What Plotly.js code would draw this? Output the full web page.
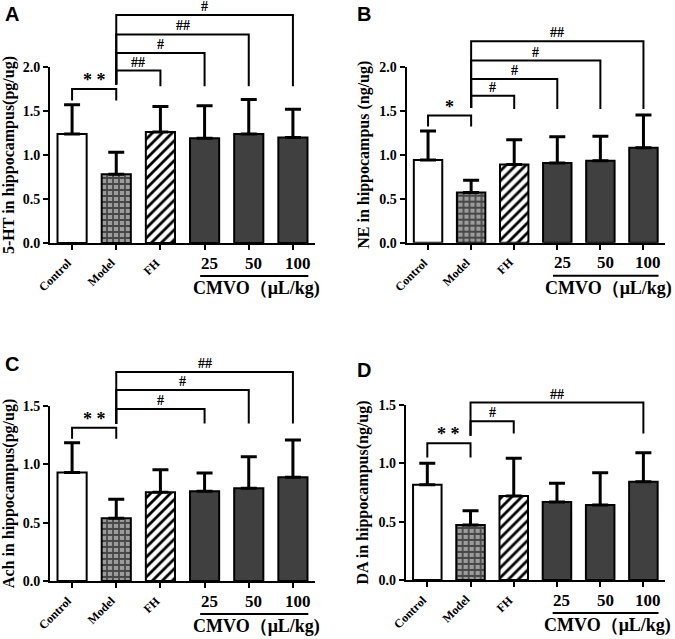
<!DOCTYPE html>
<html><head><meta charset="utf-8">
<script src="https://cdn.plot.ly/plotly-3.0.1.min.js"></script>
<style>html,body{margin:0;padding:0;background:#fff}</style>
</head><body><div id="chart" style="width:675px;height:639px"></div>
<script>
// ---------- data ----------
const groups = ['Control', 'Model', 'FH', '25', '50', '100'];
const rotatedLabels = ['Control', 'Model', 'FH'];
const doseLabels = ['25', '50', '100'];
const doseTitle = 'CMVO（μL/kg)';

const meanA = [1.24, 0.78, 1.26, 1.19, 1.24, 1.20];
const sdA   = [0.33, 0.25, 0.29, 0.37, 0.39, 0.32];
const meanB = [0.94, 0.57, 0.89, 0.905, 0.93, 1.08];
const sdB   = [0.33, 0.14, 0.28, 0.30, 0.28, 0.37];
const meanC = [0.93, 0.537, 0.76, 0.77, 0.794, 0.889];
const sdC   = [0.255, 0.163, 0.194, 0.155, 0.271, 0.319];
const meanD = [0.817, 0.471, 0.72, 0.668, 0.643, 0.842];
const sdD   = [0.183, 0.123, 0.323, 0.16, 0.277, 0.248];

const titleA = '5-HT in hippocampus(pg/ug)';
const titleB = 'NE in hippocampus (ng/ug)';
const titleC = 'Ach in hippocampus(pg/ug)';
const titleD = 'DA in hippocampus(ng/ug)';

const ticksAB = [0, 0.5, 1.0, 1.5, 2.0];
const ticksCD = [0, 0.5, 1.0, 1.5];

// significance vs Control (*) and vs Model (#)
const ctrlSigA = {level: 1.75, leg: 1.62, label: '* *'};
const ctrlSigB = {level: 1.445, leg: 1.32, label: '*'};
const ctrlSigC = {level: 1.314, leg: 1.22, label: '* *'};
const ctrlSigD = {level: 1.171, leg: 1.05, label: '* *'};

const modelTargetsA = ['FH', '25', '50', '100'];
const modelLevelsA  = [1.96, 2.16, 2.37, 2.59];
const modelLabelsA  = ['##', '#', '##', '#'];
const modelTargetsB = ['FH', '25', '50', '100'];
const modelLevelsB  = [1.67, 1.86, 2.07, 2.29];
const modelLabelsB  = ['#', '#', '#', '##'];
const modelTargetsC = ['25', '50', '100'];
const modelLevelsC  = [1.474, 1.637, 1.79];
const modelLabelsC  = ['#', '#', '##'];
const modelTargetsD = ['FH', '100'];
const modelLevelsD  = [1.36, 1.52];
const modelLabelsD  = ['#', '##'];
const modelLegs = {A: [1.80, 1.78], B: [1.53, 1.52], C: [1.345, 1.35], D: [1.237, 1.255]};

// ---------- layout geometry ----------
const W = 675, H = 639;
const panels = [
  {letter: 'A', mean: meanA, sd: sdA, title: titleA, ticks: ticksAB, ctrl: ctrlSigA,
   targets: modelTargetsA, levels: modelLevelsA, labels: modelLabelsA,
   xl: 50, xr: 315, y0: 243, ppu: 88, ymax: 2.0, yext: 2.76, lx: 3, ly: 1},
  {letter: 'B', mean: meanB, sd: sdB, title: titleB, ticks: ticksAB, ctrl: ctrlSigB,
   targets: modelTargetsB, levels: modelLevelsB, labels: modelLabelsB,
   xl: 406.5, xr: 665, y0: 242.7, ppu: 88, ymax: 2.0, yext: 2.74, lx: 355, ly: 1},
  {letter: 'C', mean: meanC, sd: sdC, title: titleC, ticks: ticksCD, ctrl: ctrlSigC,
   targets: modelTargetsC, levels: modelLevelsC, labels: modelLabelsC,
   xl: 50, xr: 315, y0: 581, ppu: 116.7, ymax: 1.5, yext: 2.0, lx: 3, ly: 351},
  {letter: 'D', mean: meanD, sd: sdD, title: titleD, ticks: ticksCD, ctrl: ctrlSigD,
   targets: modelTargetsD, levels: modelLevelsD, labels: modelLabelsD,
   xl: 405.7, xr: 665, y0: 580, ppu: 116.7, ymax: 1.5, yext: 1.9, lx: 355, ly: 357}
];

const serif = 'Liberation Serif';
const sans = 'Liberation Sans';
const barStyles = [
  {color: '#ffffff'},
  {color: '#9c9c9c', pattern: {shape: '+', fgcolor: '#474747', bgcolor: '#9c9c9c', size: 6, solidity: 0.5, fillmode: 'replace'}},
  {color: '#ffffff', pattern: {shape: '/', fgcolor: '#000000', bgcolor: '#ffffff', size: 7, solidity: 0.4, fillmode: 'replace'}},
  {color: '#404040'}, {color: '#404040'}, {color: '#404040'}
];

const data = [];
const layout = {
  width: W, height: H, margin: {l: 0, r: 0, t: 0, b: 0},
  paper_bgcolor: '#fff', plot_bgcolor: 'rgba(0,0,0,0)',
  showlegend: false, bargap: 0.34, barmode: 'overlay',
  annotations: [], shapes: []
};

panels.forEach((p, i) => {
  const n = i + 1, nb = i + 5;
  const xa = 'x' + n, ya = 'y' + n, yb = 'y' + nb;
  const yBot = 1 - p.y0 / H;
  layout['xaxis' + n] = {
    domain: [p.xl / W, p.xr / W], anchor: ya, type: 'category',
    categoryarray: groups, categoryorder: 'array', range: [-0.5, 5.5],
    showline: true, linewidth: 2, linecolor: '#000', ticks: 'outside', ticklen: 5,
    tickwidth: 2, tickcolor: '#000', showticklabels: false, showgrid: false,
    zeroline: false, fixedrange: true
  };
  layout['yaxis' + n] = {
    domain: [yBot, Math.min(1, 1 - (p.y0 - p.ymax * p.ppu) / H)], anchor: xa,
    range: [0, p.ymax], tickvals: p.ticks, tickformat: '.1f',
    showline: true, linewidth: 2, linecolor: '#000', ticks: 'outside', ticklen: 5,
    tickwidth: 2, tickcolor: '#000', showgrid: false, zeroline: false,
    tickfont: {family: serif, size: 14, color: '#000', weight: 'bold'},
    title: {text: p.title, standoff: 6, font: {family: serif, size: 16, color: '#000', weight: 'bold'}},
    fixedrange: true
  };
  layout['yaxis' + nb] = {
    domain: [yBot, Math.min(1, 1 - (p.y0 - p.yext * p.ppu) / H)], anchor: xa,
    range: [0, p.yext], visible: false, fixedrange: true
  };

  groups.forEach((g, j) => {
    const st = barStyles[j];
    const marker = {color: st.color, line: {color: '#000', width: 2}};
    if (st.pattern) marker.pattern = st.pattern;
    data.push({
      type: 'bar', x: [g], y: [p.mean[j]], xaxis: xa, yaxis: ya, marker: marker,
      error_y: {type: 'data', symmetric: false, array: [p.sd[j]], arrayminus: [0],
                color: '#000', thickness: 3, width: 8},
      hoverinfo: 'skip'
    });
  });

  // brackets
  const bx = [], by = [];
  bx.push('Control', 'Control', 'Model', 'Model', null);
  by.push(p.ctrl.leg, p.ctrl.level, p.ctrl.level, p.ctrl.leg, null);
  const legs = modelLegs[p.letter];
  p.targets.forEach((t, k) => {
    bx.push('Model', 'Model', t, t, null);
    by.push(legs[0], p.levels[k], p.levels[k], legs[1], null);
  });
  data.push({type: 'scatter', mode: 'lines', x: bx, y: by, xaxis: xa, yaxis: yb,
             line: {color: '#000', width: 2}, hoverinfo: 'skip', connectgaps: false});

  const iM = groups.indexOf('Model');
  layout.annotations.push({xref: xa, yref: yb, x: (groups.indexOf('Control') + iM) / 2, y: p.ctrl.level,
    yanchor: 'bottom', text: p.ctrl.label, showarrow: false, yshift: -3,
    font: {family: serif, size: 18, color: '#000', weight: 'bold'}});
  p.targets.forEach((t, k) => {
    layout.annotations.push({xref: xa, yref: yb, x: (iM + groups.indexOf(t)) / 2, y: p.levels[k],
      yanchor: 'bottom', text: p.labels[k], showarrow: false, yshift: -1,
      font: {family: serif, size: 14, color: '#000', weight: 'bold'}});
  });

  // category labels
  rotatedLabels.forEach(c => {
    layout.annotations.push({xref: xa, yref: ya, x: groups.indexOf(c), y: 0, textangle: -45,
      xanchor: 'right', yanchor: 'top', xshift: 5, yshift: -10, text: c, showarrow: false,
      font: {family: serif, size: 12, color: '#000', weight: 'bold'}});
  });
  doseLabels.forEach(c => {
    layout.annotations.push({xref: xa, yref: ya, x: groups.indexOf(c), y: 0, xanchor: 'center', yanchor: 'middle',
      xshift: 5, yshift: -20, text: c, showarrow: false,
      font: {family: serif, size: 17, color: '#000', weight: 'bold'}});
  });
  layout.shapes.push({type: 'line', xref: xa, yref: 'paper', x0: 2.9, x1: 5.35,
    y0: 1 - (p.y0 + 33) / H, y1: 1 - (p.y0 + 33) / H, line: {color: '#000', width: 2}});
  layout.annotations.push({xref: xa, yref: 'paper', x: 4.18, y: 1 - (p.y0 + 45.5) / H,
    xanchor: 'center', yanchor: 'middle', text: doseTitle, showarrow: false,
    font: {family: serif, size: 18, color: '#000', weight: 'bold'}});

  // panel letter
  layout.annotations.push({xref: 'paper', yref: 'paper', x: p.lx / W, y: 1 - p.ly / H,
    xanchor: 'left', yanchor: 'top', text: p.letter, showarrow: false,
    font: {family: sans, size: 20, color: '#000', weight: 'bold'}});
});

Plotly.newPlot('chart', data, layout, {displayModeBar: false, staticPlot: true});
</script>
</body></html>
